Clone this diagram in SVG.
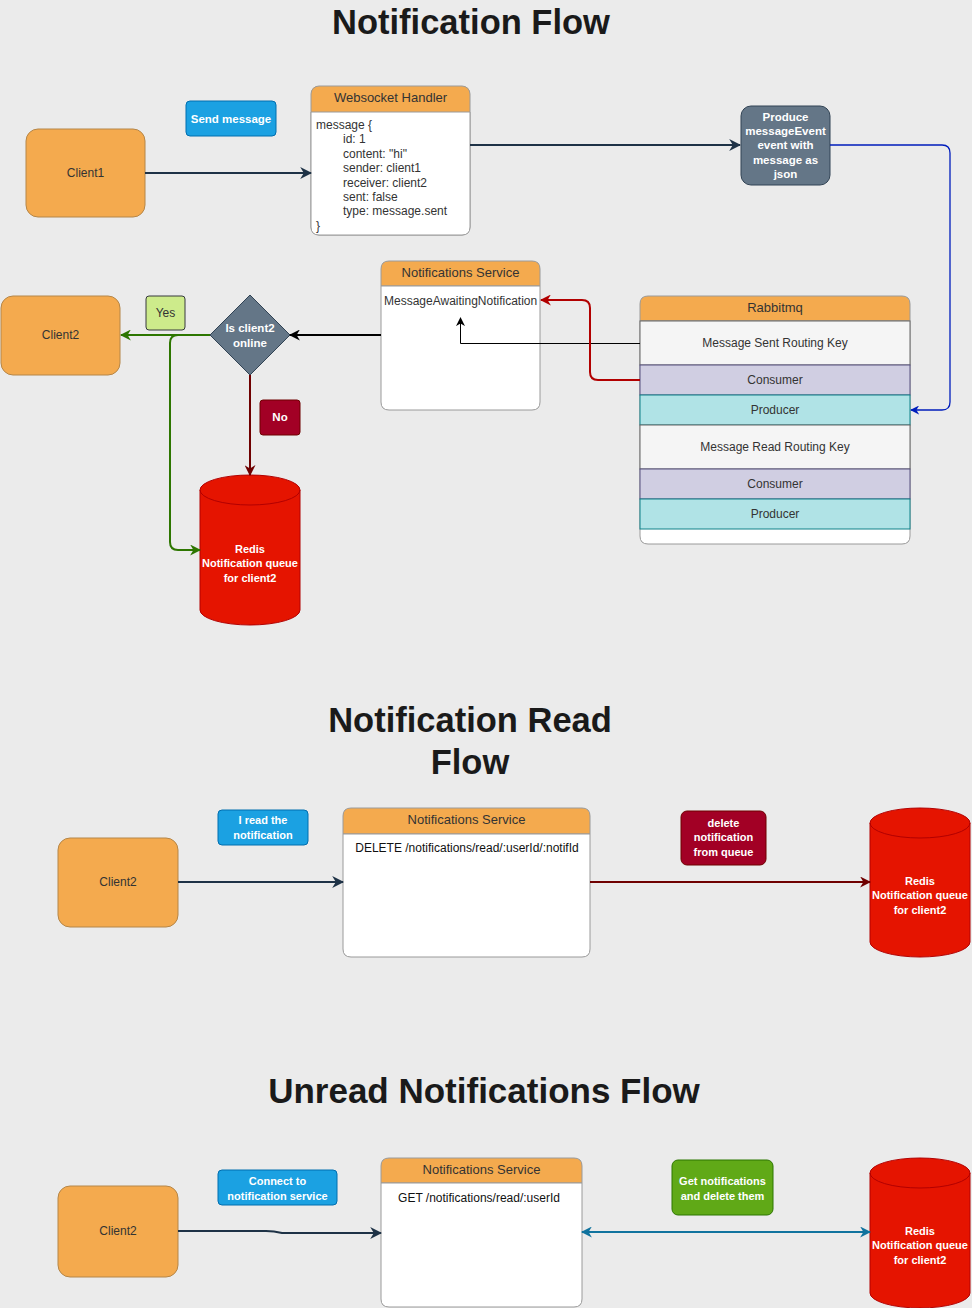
<svg xmlns="http://www.w3.org/2000/svg" width="972" height="1308" viewBox="0 0 972 1308">
<defs>
<style>
text{font-family:"Liberation Sans",Arial,Helvetica,sans-serif;font-size:12px;}
.title{font-size:34.5px;font-weight:bold;fill:#1a1a1a;text-anchor:middle;}
.c{text-anchor:middle;}
.h{font-size:13px;}
.w{fill:#ffffff;font-weight:bold;text-anchor:middle;font-size:11px;}
.w2{font-size:11.5px;}
.dk{fill:#333333;}
.client{fill:#F4AA4E;stroke:#B58648;stroke-width:1;}
.hdr{fill:#F4AA4E;}
.blue{fill:#1BA1E2;stroke:#006EAF;}
.red{fill:#A20025;stroke:#6F0000;}
.cyl{fill:#E51400;stroke:#B20000;}
.slate{fill:#647687;stroke:#314354;}
.cons{fill:#D0CEE2;stroke:#56517E;}
.prod{fill:#B0E3E6;stroke:#0E8088;}
.key{fill:#F5F5F5;stroke:#666666;}
.ln{fill:none;}
</style>
<marker id="aNavyL" viewBox="0 0 10 10" refX="9" refY="5" markerWidth="12" markerHeight="12" orient="auto" markerUnits="userSpaceOnUse"><path d="M0,0 L10,5 L0,10 L3,5 Z" fill="#1E3246"/></marker>
<marker id="aBlk" viewBox="0 0 10 10" refX="9" refY="5" markerWidth="11" markerHeight="11" orient="auto" markerUnits="userSpaceOnUse"><path d="M0,0 L10,5 L0,10 L3,5 Z" fill="#000000"/></marker>
<marker id="aBlkS" viewBox="0 0 10 10" refX="9" refY="5" markerWidth="9" markerHeight="9" orient="auto" markerUnits="userSpaceOnUse"><path d="M0,0 L10,5 L0,10 L3,5 Z" fill="#000000"/></marker>
<marker id="aRed" viewBox="0 0 10 10" refX="9" refY="5" markerWidth="11" markerHeight="11" orient="auto" markerUnits="userSpaceOnUse"><path d="M0,0 L10,5 L0,10 L3,5 Z" fill="#B20000"/></marker>
<marker id="aDRed" viewBox="0 0 10 10" refX="9" refY="5" markerWidth="11" markerHeight="11" orient="auto" markerUnits="userSpaceOnUse"><path d="M0,0 L10,5 L0,10 L3,5 Z" fill="#6F0000"/></marker>
<marker id="aGrn" viewBox="0 0 10 10" refX="9" refY="5" markerWidth="11" markerHeight="11" orient="auto" markerUnits="userSpaceOnUse"><path d="M0,0 L10,5 L0,10 L3,5 Z" fill="#2D7600"/></marker>
<marker id="aBlu" viewBox="0 0 10 10" refX="9" refY="5" markerWidth="9" markerHeight="9" orient="auto" markerUnits="userSpaceOnUse"><path d="M0,0 L10,5 L0,10 L3,5 Z" fill="#001DBC"/></marker>
<marker id="aTeal" viewBox="0 0 10 10" refX="9" refY="5" markerWidth="11" markerHeight="11" orient="auto-start-reverse" markerUnits="userSpaceOnUse"><path d="M0,0 L10,5 L0,10 L3,5 Z" fill="#10739E"/></marker>
</defs>
<rect x="0" y="0" width="972" height="1308" fill="#EBEBEB"/>

<text class="title" x="471" y="34">Notification Flow</text>
<text class="title" x="470" y="732">Notification Read</text>
<text class="title" x="470" y="774">Flow</text>
<text class="title" x="484" y="1103" style="font-size:35px">Unread Notifications Flow</text>

<g id="client1">
<rect class="client" x="26" y="129" width="119" height="88" rx="12"/>
<text class="c dk" x="85.5" y="177">Client1</text>
</g>

<g id="send-message">
<rect class="blue" x="186" y="101" width="90" height="35" rx="4"/>
<text class="w w2" x="231" y="123">Send message</text>
</g>

<g id="websocket-handler">
<path d="M319,86 L462,86 Q470,86 470,94 L470,112 L311,112 L311,94 Q311,86 319,86 Z" class="hdr"/>
<rect x="311" y="86" width="159" height="149" rx="8" fill="none" stroke="#9a9a9a"/>
<path d="M311,112 L311,227 Q311,235 319,235 L462,235 Q470,235 470,227 L470,112 Z" fill="#ffffff" stroke="#9a9a9a"/>
<text class="c dk h" x="390.5" y="102">Websocket Handler</text>
<text class="dk" x="316" y="129">message {</text>
<text class="dk" x="343" y="143">id: 1</text>
<text class="dk" x="343" y="158">content: "hi"</text>
<text class="dk" x="343" y="172">sender: client1</text>
<text class="dk" x="343" y="187">receiver: client2</text>
<text class="dk" x="343" y="201">sent: false</text>
<text class="dk" x="343" y="215">type: message.sent</text>
<text class="dk" x="316" y="230">}</text>
</g>

<g id="produce-event">
<rect class="slate" x="741" y="106" width="89" height="79" rx="10"/>
<text class="w w2" x="785.5" y="121">Produce</text>
<text class="w w2" x="785.5" y="135">messageEvent</text>
<text class="w w2" x="785.5" y="149">event with</text>
<text class="w w2" x="785.5" y="164">message as</text>
<text class="w w2" x="785.5" y="178">json</text>
</g>

<g id="notifications-service-1">
<path d="M389,261 L532,261 Q540,261 540,269 L540,286 L381,286 L381,269 Q381,261 389,261 Z" class="hdr" stroke="#9a9a9a"/>
<path d="M381,286 L381,402 Q381,410 389,410 L532,410 Q540,410 540,402 L540,286 Z" fill="#ffffff" stroke="#9a9a9a"/>
<text class="c dk h" x="460.5" y="277">Notifications Service</text>
<text class="dk" x="384" y="305">MessageAwaitingNotification</text>
</g>

<g id="rabbitmq">
<path d="M648,296 L902,296 Q910,296 910,304 L910,321 L640,321 L640,304 Q640,296 648,296 Z" class="hdr" stroke="#9a9a9a"/>
<path d="M640,321 L640,536 Q640,544 648,544 L902,544 Q910,544 910,536 L910,321 Z" fill="#ffffff" stroke="#9a9a9a"/>
<rect class="key" x="640" y="321" width="270" height="44"/>
<rect class="cons" x="640" y="365" width="270" height="30"/>
<rect class="prod" x="640" y="395" width="270" height="30"/>
<rect class="key" x="640" y="425" width="270" height="44"/>
<rect class="cons" x="640" y="469" width="270" height="30"/>
<rect class="prod" x="640" y="499" width="270" height="30"/>
<text class="c dk h" x="775" y="312">Rabbitmq</text>
<text class="c dk" x="775" y="347">Message Sent Routing Key</text>
<text class="c dk" x="775" y="384">Consumer</text>
<text class="c dk" x="775" y="414">Producer</text>
<text class="c dk" x="775" y="451">Message Read Routing Key</text>
<text class="c dk" x="775" y="488">Consumer</text>
<text class="c dk" x="775" y="518">Producer</text>
</g>

<g id="decision">
<path class="slate" d="M250,295 L290,335 L250,375 L210,335 Z"/>
<text class="w w2" x="250" y="332">Is client2</text>
<text class="w w2" x="250" y="347">online</text>
</g>

<g id="yes-label">
<rect x="146" y="296" width="39" height="34" rx="3" fill="#CDEB8B" stroke="#36393D"/>
<text class="c dk" x="165.5" y="317">Yes</text>
</g>

<g id="no-label">
<rect class="red" x="260" y="400" width="40" height="35" rx="3"/>
<text class="w w2" x="280" y="421">No</text>
</g>

<g id="client2-a">
<rect class="client" x="1" y="296" width="119" height="79" rx="12"/>
<text class="c dk" x="60.5" y="339">Client2</text>
</g>

<g id="redis-a">
<path class="cyl" d="M200,490 A50,15 0 0 1 300,490 L300,610 A50,15 0 0 1 200,610 Z"/>
<path class="ln" d="M200,490 A50,15 0 0 0 300,490" stroke="#B20000"/>
<text class="w" x="250" y="553">Redis</text>
<text class="w" x="250" y="567">Notification queue</text>
<text class="w" x="250" y="582">for client2</text>
</g>

<g id="client2-b">
<rect class="client" x="58" y="838" width="120" height="89" rx="12"/>
<text class="c dk" x="118" y="886">Client2</text>
</g>

<g id="read-label">
<rect class="blue" x="218" y="810" width="90" height="35" rx="4"/>
<text class="w" x="263" y="824">I read the</text>
<text class="w" x="263" y="839">notification</text>
</g>

<g id="notifications-service-2">
<path d="M351,808 L582,808 Q590,808 590,816 L590,834 L343,834 L343,816 Q343,808 351,808 Z" class="hdr" stroke="#9a9a9a"/>
<path d="M343,834 L343,949 Q343,957 351,957 L582,957 Q590,957 590,949 L590,834 Z" fill="#ffffff" stroke="#9a9a9a"/>
<text class="c dk h" x="466.5" y="824">Notifications Service</text>
<text class="c" x="467" y="852" fill="#111111">DELETE /notifications/read/:userId/:notifId</text>
</g>

<g id="delete-label">
<rect class="red" x="681" y="811" width="85" height="54" rx="6"/>
<text class="w" x="723.5" y="827">delete</text>
<text class="w" x="723.5" y="841">notification</text>
<text class="w" x="723.5" y="856">from queue</text>
</g>

<g id="redis-b">
<path class="cyl" d="M870,823 A50,15 0 0 1 970,823 L970,942 A50,15 0 0 1 870,942 Z"/>
<path class="ln" d="M870,823 A50,15 0 0 0 970,823" stroke="#B20000"/>
<text class="w" x="920" y="885">Redis</text>
<text class="w" x="920" y="899">Notification queue</text>
<text class="w" x="920" y="914">for client2</text>
</g>

<g id="client2-c">
<rect class="client" x="58" y="1186" width="120" height="91" rx="12"/>
<text class="c dk" x="118" y="1235">Client2</text>
</g>

<g id="connect-label">
<rect class="blue" x="218" y="1170" width="119" height="35" rx="4"/>
<text class="w" x="277.5" y="1185">Connect to</text>
<text class="w" x="277.5" y="1200">notification service</text>
</g>

<g id="notifications-service-3">
<path d="M389,1158 L574,1158 Q582,1158 582,1166 L582,1183 L381,1183 L381,1166 Q381,1158 389,1158 Z" class="hdr" stroke="#9a9a9a"/>
<path d="M381,1183 L381,1299 Q381,1307 389,1307 L574,1307 Q582,1307 582,1299 L582,1183 Z" fill="#ffffff" stroke="#9a9a9a"/>
<text class="c dk h" x="481.5" y="1174">Notifications Service</text>
<text class="c" x="479" y="1202" fill="#111111">GET /notifications/read/:userId</text>
</g>

<g id="get-label">
<rect x="672" y="1160" width="101" height="55" rx="6" fill="#60A917" stroke="#2D7600"/>
<text class="w" x="722.5" y="1185">Get notifications</text>
<text class="w" x="722.5" y="1200">and delete them</text>
</g>

<g id="redis-c">
<path class="cyl" d="M870,1173 A50,15 0 0 1 970,1173 L970,1293 A50,15 0 0 1 870,1293 Z"/>
<path class="ln" d="M870,1173 A50,15 0 0 0 970,1173" stroke="#B20000"/>
<text class="w" x="920" y="1235">Redis</text>
<text class="w" x="920" y="1249">Notification queue</text>
<text class="w" x="920" y="1264">for client2</text>
</g>

<g id="connectors">
<path class="ln" d="M145,173 L311,173" stroke="#1E3246" stroke-width="2" marker-end="url(#aNavyL)"/>
<path class="ln" d="M470,145 L740,145" stroke="#1E3246" stroke-width="2" marker-end="url(#aNavyL)"/>
<path class="ln" d="M830,145 L942,145 Q950,145 950,153 L950,402 Q950,410 942,410 L911,410" stroke="#001DBC" stroke-width="1.3" marker-end="url(#aBlu)"/>
<path class="ln" d="M640,343.5 L460.5,343.5 L460.5,318" stroke="#000000" stroke-width="1" marker-end="url(#aBlkS)"/>
<path class="ln" d="M640,380 L598,380 Q590,380 590,372 L590,308 Q590,300 582,300 L541,300" stroke="#B20000" stroke-width="2" marker-end="url(#aRed)"/>
<path class="ln" d="M381,335 L290,335" stroke="#000000" stroke-width="2" marker-end="url(#aBlk)"/>
<path class="ln" d="M210,335 L121,335" stroke="#2D7600" stroke-width="2" marker-end="url(#aGrn)"/>
<path class="ln" d="M210,335 L178,335 Q170,335 170,343 L170,542 Q170,550 178,550 L200,550" stroke="#2D7600" stroke-width="2" marker-end="url(#aGrn)"/>
<path class="ln" d="M250,375 L250,475" stroke="#6F0000" stroke-width="2" marker-end="url(#aDRed)"/>
<path class="ln" d="M178,882 L343,882" stroke="#1E3246" stroke-width="2" marker-end="url(#aNavyL)"/>
<path class="ln" d="M590,882 L870,882" stroke="#6F0000" stroke-width="2" marker-end="url(#aDRed)"/>
<path class="ln" d="M178,1231 L266,1231 Q274,1231 282,1233 L381,1233" stroke="#1E3246" stroke-width="2" marker-end="url(#aNavyL)"/>
<path class="ln" d="M582,1232 L870,1232" stroke="#10739E" stroke-width="2" marker-start="url(#aTeal)" marker-end="url(#aTeal)"/>
</g>
</svg>
